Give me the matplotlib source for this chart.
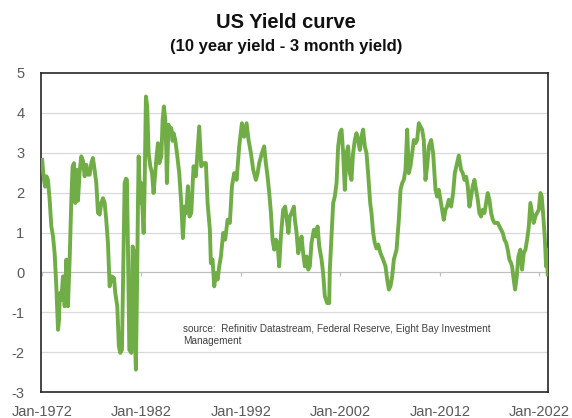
import matplotlib

matplotlib.use("Agg")
import matplotlib.pyplot as plt
import numpy as np

plt.rcParams["font.family"] = ["Liberation Sans", "DejaVu Sans"]
plt.rcParams["axes.unicode_minus"] = False  # reference uses plain hyphens

# 10y - 3m spread (decimal year, % points)
years_70s = [1972.00, 1972.10, 1972.20, 1972.32, 1972.44, 1972.60, 1972.77, 1972.94,
             1973.11, 1973.27, 1973.44, 1973.61, 1973.71, 1973.80, 1973.94, 1974.11,
             1974.28, 1974.45, 1974.61, 1974.78, 1974.95, 1975.08, 1975.22, 1975.35,
             1975.52, 1975.62, 1975.78, 1975.95, 1976.12, 1976.29, 1976.45, 1976.62,
             1976.79, 1976.96, 1977.12, 1977.29, 1977.46, 1977.63, 1977.80, 1977.96,
             1978.13, 1978.30, 1978.46, 1978.63, 1978.80, 1979.00, 1979.24, 1979.37,
             1979.57, 1979.73, 1979.87]
spread_70s = [2.87, 2.57, 2.32, 2.15, 2.41, 2.32, 1.82, 1.15,
              0.90, 0.48, -0.35, -1.44, -1.20, -0.52, -0.69, -0.10,
              -0.85, 0.32, -0.85, 0.32, 1.82, 2.66, 2.74, 1.74,
              2.57, 1.80, 2.50, 2.91, 2.80, 2.41, 2.70, 2.45,
              2.45, 2.74, 2.87, 2.57, 2.24, 1.49, 1.45, 1.74,
              1.86, 1.74, 1.32, 0.74, -0.35, -0.10, -0.14, -0.52,
              -0.85, -1.85, -2.02]

years_80s = [1980.04, 1980.18, 1980.31, 1980.45, 1980.54, 1980.65, 1980.78, 1980.98,
             1981.11, 1981.22, 1981.34, 1981.44, 1981.55, 1981.65, 1981.72, 1981.88,
             1981.98, 1982.12, 1982.22, 1982.32, 1982.45, 1982.58, 1982.72, 1982.89,
             1983.06, 1983.22, 1983.39, 1983.52, 1983.66, 1983.80, 1984.00, 1984.13,
             1984.26, 1984.40, 1984.50, 1984.56, 1984.66, 1984.73, 1984.86, 1985.00,
             1985.13, 1985.23, 1985.40, 1985.57, 1985.80, 1986.00, 1986.17, 1986.33,
             1986.50, 1986.67, 1986.84, 1987.01, 1987.24, 1987.47, 1987.68, 1987.81,
             1988.01, 1988.25, 1988.48, 1988.65, 1988.88, 1988.98, 1989.15, 1989.32,
             1989.49, 1989.66, 1989.82, 1989.99]
spread_80s = [-1.94, 0.20, 2.24, 2.35, 2.32, 0.50, -1.94, -2.02,
              0.65, 0.55, -1.60, -2.44, -0.50, 1.74, 2.91, 1.74,
              2.24, 1.49, 0.99, 2.16, 4.41, 4.16, 2.99, 2.66,
              2.49, 1.99, 2.49, 2.90, 3.24, 2.74, 2.91, 3.83,
              4.16, 3.83, 3.00, 2.24, 3.20, 3.70, 3.50, 3.62,
              3.30, 3.49, 3.32, 2.99, 2.49, 1.74, 0.86, 1.65,
              1.49, 2.16, 1.40, 1.49, 2.66, 2.41, 3.16, 3.66,
              2.66, 2.74, 2.74, 1.74, 1.07, 0.23, 0.32, -0.35,
              -0.02, -0.18, 0.15, 0.40]

years_90s = [1990.22, 1990.42, 1990.66, 1990.89, 1991.10, 1991.33, 1991.57, 1991.83,
             1992.10, 1992.33, 1992.57, 1992.77, 1993.01, 1993.24, 1993.51, 1993.68,
             1993.84, 1994.11, 1994.34, 1994.51, 1994.68, 1994.85, 1995.02, 1995.18,
             1995.35, 1995.52, 1995.68, 1995.85, 1996.02, 1996.25, 1996.45, 1996.62,
             1996.78, 1996.92, 1997.09, 1997.33, 1997.43, 1997.60, 1997.76, 1997.93,
             1998.10, 1998.26, 1998.43, 1998.60, 1998.77, 1998.93, 1999.10, 1999.34,
             1999.54, 1999.71, 1999.88]
spread_90s = [0.99, 0.82, 1.32, 1.24, 2.16, 2.49, 2.32, 3.16,
              3.74, 3.40, 3.74, 3.32, 2.99, 2.57, 2.32, 2.49,
              2.74, 2.99, 3.16, 2.74, 2.41, 1.99, 1.49, 0.82,
              0.57, 0.82, 0.74, 0.15, 0.90, 1.57, 1.65, 1.32,
              0.99, 1.40, 1.49, 1.65, 1.32, 0.99, 0.48, 0.65,
              0.90, 0.48, 0.15, 0.40, 0.07, 0.15, 0.74, 1.07,
              0.90, 1.15, 0.65]

years_00s = [2000.11, 2000.27, 2000.44, 2000.68, 2000.88, 2000.94, 2001.11, 2001.28,
             2001.44, 2001.62, 2001.78, 2001.95, 2002.12, 2002.28, 2002.45, 2002.62,
             2002.78, 2002.95, 2003.12, 2003.28, 2003.46, 2003.62, 2003.79, 2003.96,
             2004.13, 2004.29, 2004.46, 2004.63, 2004.79, 2005.00, 2005.13, 2005.30,
             2005.46, 2005.63, 2005.80, 2006.04, 2006.30, 2006.54, 2006.71, 2006.88,
             2007.04, 2007.21, 2007.38, 2007.65, 2007.88, 2008.05, 2008.22, 2008.38,
             2008.55, 2008.72, 2008.88, 2009.05, 2009.22, 2009.39, 2009.56, 2009.72,
             2009.89]
spread_00s = [0.32, -0.02, -0.60, -0.77, -0.77, 0.07, 0.90, 1.74,
              1.90, 2.24, 3.16, 3.49, 3.58, 2.99, 2.07, 2.99,
              3.16, 2.49, 2.32, 2.99, 3.32, 3.49, 3.32, 3.07,
              3.41, 3.58, 3.16, 2.99, 2.49, 1.74, 1.49, 0.99,
              0.74, 0.60, 0.70, 0.48, 0.32, 0.15, -0.18, -0.43,
              -0.35, -0.10, 0.32, 0.57, 1.32, 2.07, 2.24, 2.32,
              2.57, 3.58, 2.49, 2.66, 2.99, 3.32, 3.24, 3.32,
              3.74]

years_10s = [2010.06, 2010.22, 2010.39, 2010.56, 2010.73, 2010.90, 2011.13, 2011.33,
             2011.57, 2011.73, 2011.90, 2012.07, 2012.23, 2012.40, 2012.57, 2012.73,
             2012.90, 2013.14, 2013.34, 2013.51, 2013.74, 2013.91, 2014.14, 2014.31,
             2014.48, 2014.65, 2014.81, 2014.98, 2015.15, 2015.31, 2015.48, 2015.65,
             2015.82, 2015.98, 2016.15, 2016.32, 2016.49, 2016.66, 2016.82, 2016.99,
             2017.16, 2017.33, 2017.50, 2017.83, 2018.00, 2018.17, 2018.33, 2018.50,
             2018.67, 2018.83, 2019.00, 2019.17, 2019.27, 2019.43, 2019.57, 2019.74,
             2019.90]
spread_10s = [3.66, 3.58, 3.32, 2.32, 2.66, 3.16, 3.32, 2.99,
              2.07, 1.90, 2.07, 1.82, 1.57, 1.32, 1.57, 1.65,
              1.82, 1.65, 1.99, 2.49, 2.74, 2.93, 2.57, 2.49,
              2.32, 2.40, 2.16, 1.65, 1.90, 2.16, 2.32, 2.07,
              1.82, 1.49, 1.40, 1.57, 1.49, 1.74, 1.99, 1.82,
              1.49, 1.32, 1.24, 1.24, 1.15, 1.07, 0.99, 0.82,
              0.74, 0.57, 0.32, 0.23, 0.15, -0.18, -0.43, -0.10,
              0.40]

years_20s = [2020.10, 2020.27, 2020.44, 2020.61, 2020.78, 2020.95, 2021.11, 2021.28,
             2021.44, 2021.61, 2021.78, 2021.95, 2022.12, 2022.25, 2022.38, 2022.55,
             2022.69, 2022.76, 2022.86]
spread_20s = [0.57, 0.07, 0.48, 0.57, 0.82, 1.15, 1.74, 1.49,
              1.24, 1.40, 1.49, 1.57, 1.99, 1.90, 1.49, 0.90,
              0.15, 0.57, -0.10]

tick_years = [1972, 1982, 1992, 2002, 2012, 2022]
tick_labels = ["Jan-1972", "Jan-1982", "Jan-1992", "Jan-2002", "Jan-2012", "Jan-2022"]
y_ticks = [-3, -2, -1, 0, 1, 2, 3, 4, 5]

years = np.concatenate([years_70s, years_80s, years_90s, years_00s, years_10s, years_20s])
spread = np.concatenate([spread_70s, spread_80s, spread_90s, spread_00s, spread_10s, spread_20s])

W, H = 572, 418
fig = plt.figure(figsize=(W / 100, H / 100), dpi=100)
ax = fig.add_axes([41 / W, 1 - 392 / H, 507 / W, 319 / H])

# light horizontal gridlines, zero line a touch darker
for v in y_ticks[1:-1]:
    ax.axhline(v, color="#BFBFBF" if v == 0 else "#D9D9D9", lw=0.9, zorder=1)
ax.vlines(tick_years, -0.1, 0, color="#BFBFBF", lw=0.9, zorder=1)

ax.plot(years, spread, color="#70AD47", lw=2.8, solid_joinstyle="round",
        solid_capstyle="butt", zorder=3)

ax.set_xlim(1971.9, 2022.88)
ax.set_ylim(-3, 5)
ax.set_yticks(y_ticks)
ax.set_xticks(tick_years)
ax.set_xticklabels(tick_labels)
ax.tick_params(axis="both", length=0, labelsize=10.5, labelcolor="#595959")
ax.tick_params(axis="y", pad=12)
ax.tick_params(axis="x", pad=9)
for s in ax.spines.values():
    s.set_color("#262626")
    s.set_linewidth(1.2)

ax.text(0.28, 0.179, "source:  Refinitiv Datastream, Federal Reserve, Eight Bay Investment\nManagement",
        transform=ax.transAxes, fontsize=7.2, color="#404040", va="center",
        linespacing=1.3)

fig.text(0.5, 1 - 22 / H, "US Yield curve", ha="center", va="center",
         fontsize=14.5, fontweight="bold", color="#111111")
fig.text(0.5, 1 - 46 / H, "(10 year yield - 3 month yield)", ha="center", va="center",
         fontsize=12, fontweight="bold", color="#111111")

fig.savefig("out.png", dpi=100)
plt.close(fig)
